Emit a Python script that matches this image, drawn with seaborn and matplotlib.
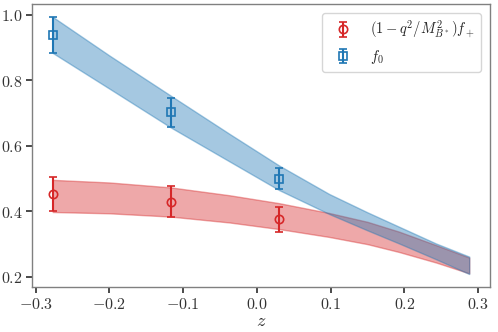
import matplotlib
matplotlib.use("Agg")
import matplotlib.pyplot as plt
import seaborn as sns
from matplotlib.ticker import FuncFormatter

# lattice points
z_pts = [-0.277, -0.117, 0.030]
fplus = [0.453, 0.430, 0.376]
fplus_err = [0.053, 0.046, 0.038]
fzero = [0.938, 0.702, 0.500]
fzero_err = [0.055, 0.045, 0.032]

# fit bands
z_band = [-0.277, -0.200, -0.117, -0.037, 0.030, 0.098, 0.150, 0.193, 0.243, 0.288]
fzero_hi = [0.993, 0.875, 0.753, 0.636, 0.540, 0.453, 0.397, 0.353, 0.302, 0.262]
fzero_lo = [0.883, 0.774, 0.656, 0.552, 0.465, 0.392, 0.342, 0.302, 0.254, 0.209]
fplus_hi = [0.496, 0.488, 0.473, 0.449, 0.425, 0.395, 0.368, 0.338, 0.297, 0.259]
fplus_lo = [0.398, 0.394, 0.384, 0.366, 0.346, 0.322, 0.300, 0.276, 0.244, 0.211]

sns.set_theme(style="ticks", rc={
    "axes.edgecolor": "0.5",
    "xtick.color": "0.2",
    "ytick.color": "0.2",
    "axes.linewidth": 1.0,
})
plt.rcParams["mathtext.fontset"] = "cm"
plt.rcParams["font.family"] = ["DejaVu Serif"]

red = "#d62728"
blue = "#1f77b4"

fig, ax = plt.subplots(figsize=(4.98, 3.32), dpi=100)
fig.subplots_adjust(left=0.064, right=0.984, top=0.988, bottom=0.136)

ax.fill_between(z_band, fplus_lo, fplus_hi, color=red, alpha=0.4, lw=1)
ax.fill_between(z_band, fzero_lo, fzero_hi, color=blue, alpha=0.4, lw=1)

ax.errorbar(z_pts, fplus, yerr=fplus_err, fmt="o", mfc="none", color=red,
            ms=6, capsize=3, elinewidth=1.5, mew=1.2,
            label=r"$(1-q^2/M_{B^*}^2)f_+$")
ax.errorbar(z_pts, fzero, yerr=fzero_err, fmt="s", mfc="none", color=blue,
            ms=6, capsize=3, elinewidth=1.5, mew=1.2, label=r"$f_0$")

fmt = FuncFormatter(lambda v, p: "$%.1f$" % (0.0 if abs(v) < 1e-9 else v))
ax.xaxis.set_major_formatter(fmt)
ax.yaxis.set_major_formatter(fmt)
ax.tick_params(labelsize=11.5, length=4, pad=2.5)
ax.set_xlabel("$z$", fontsize=13, labelpad=-0.5)

ax.legend(loc="upper right", fontsize=10.5, frameon=True, handletextpad=0.9,
          borderaxespad=0.6)

fig.savefig("out.png", dpi=100)
